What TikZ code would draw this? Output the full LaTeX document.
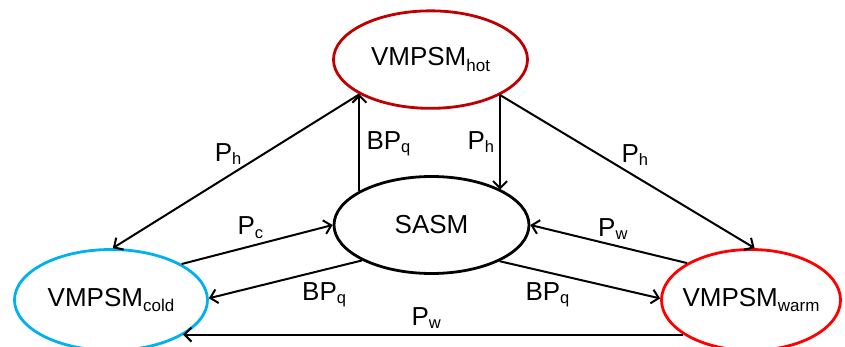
\documentclass[tikz,border=0pt]{standalone}
\usepackage{fontspec}
\setmainfont{Liberation Sans}
\usetikzlibrary{shapes.geometric,arrows.meta}
\definecolor{hotred}{RGB}{192,0,0}
\definecolor{coldblue}{RGB}{0,176,240}
\definecolor{warmred}{RGB}{255,0,0}
\newcommand{\lsub}[1]{\raisebox{-3pt}{\fontsize{16.5}{18}\selectfont #1}}
\newcommand{\nsub}[1]{\raisebox{-5.5pt}{\fontsize{17}{18}\selectfont #1}}
\begin{document}
\begin{tikzpicture}[x=1pt,y=-1pt,
  state/.style={ellipse,draw,line width=2.8pt,inner ysep=0pt,inner xsep=-30pt,font=\fontsize{26}{30}\selectfont},
  arr/.style={line width=2pt,-{Straight Barb[length=7pt,width=14pt]}},
  lab/.style={anchor=base west,inner sep=0pt,font=\fontsize{26}{30}\selectfont}]
\path[use as bounding box] (0,0) rectangle (845,347);
\clip (0,0) rectangle (845,347);
% states
\node[state,draw=hotred,minimum width=194pt,minimum height=97.5pt] (hot) at (430.5,59.6) {VMPSM\nsub{hot}};
\node[state,draw=black,minimum width=195pt,minimum height=97pt] (sasm) at (431.5,225) {SASM};
\node[state,draw=coldblue,minimum width=193pt,minimum height=101pt] (cold) at (111,300) {VMPSM\nsub{cold}};
\node[state,draw=warmred,minimum width=179pt,minimum height=101pt] (warm) at (751,300) {VMPSM\nsub{warm}};
% connectors
\draw[arr] (hot.206 |- sasm.155) -- (hot.206);
\draw[arr] (hot.333) -- (hot.333 |- sasm.27);
\draw[arr] (hot.206) -- (cold.88);
\draw[arr] (hot.333) -- (warm.86);
\draw[arr] (cold.27.5) -- (sasm.180);
\draw[arr] (sasm.207.4) -- (cold.1);
\draw[arr] (warm.150) -- (sasm.0);
\draw[arr] (sasm.332.3) -- (warm.179);
\draw[arr] (warm.207.8) -- (warm.207.8 -| cold.334);
% labels
\node[lab] (l1) at (214.7,161.7) {P\lsub{h}};
\node[lab] (l2) at (237.3,235) {P\lsub{c}};
\node[lab] (l3) at (366.3,150) {BP\lsub{q}};
\node[lab] (l4) at (467.3,150) {P\lsub{h}};
\node[lab] (l5) at (621.3,162.7) {P\lsub{h}};
\node[lab] (l6) at (598,236.7) {P\lsub{w}};
\node[lab] (l7) at (302,300) {BP\lsub{q}};
\node[lab] (l8) at (525.3,300) {BP\lsub{q}};
\node[lab] (l9) at (411.3,325) {P\lsub{w}};
\end{tikzpicture}
\end{document}
